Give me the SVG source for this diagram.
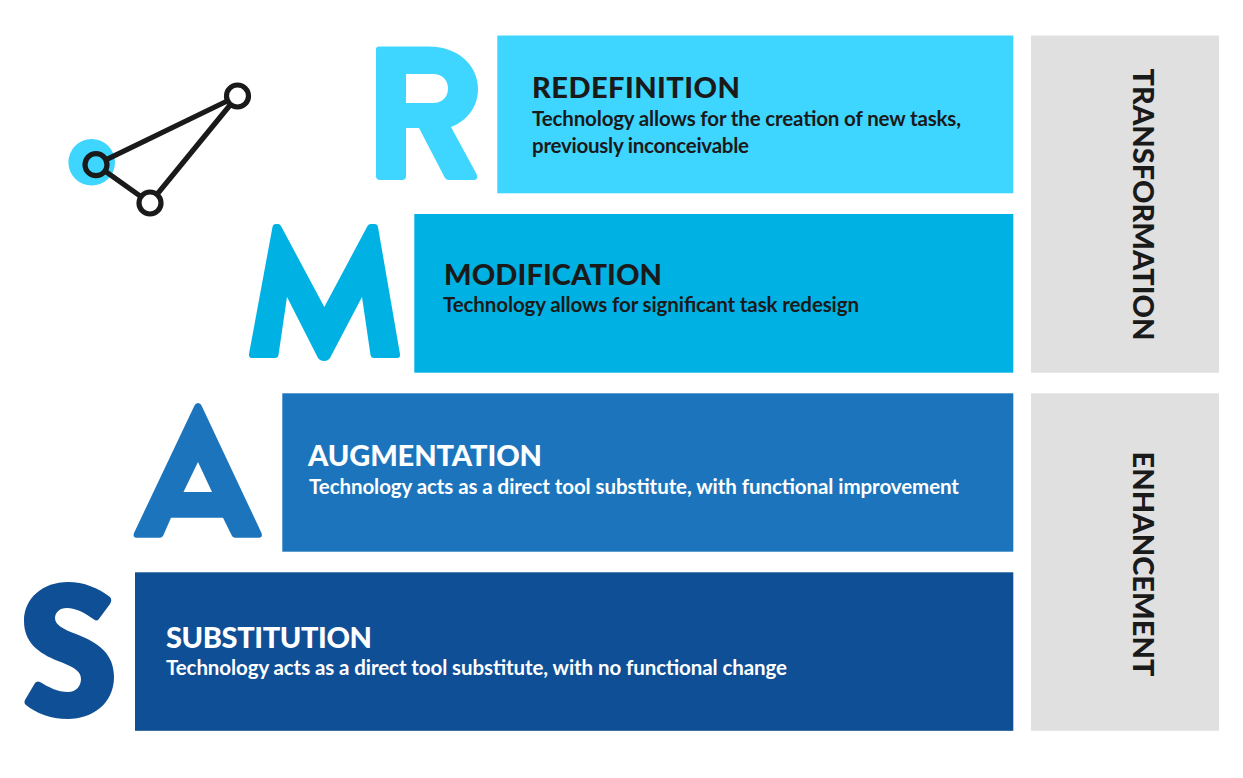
<svg xmlns="http://www.w3.org/2000/svg" width="1243" height="778" viewBox="0 0 1243 778">
<style>
.t{font-family:"Lato","Liberation Sans",sans-serif;font-weight:900;font-size:29px}
.b{font-family:"Lato","Liberation Sans",sans-serif;font-weight:700;font-size:20.500px}
.d{fill:#1a1a1a}.w{fill:#fff}
.v{font-family:"Lato","Liberation Sans",sans-serif;font-weight:900;font-size:29px;fill:#1a1a1a}
</style>
<rect width="1243" height="778" fill="#fff"/>
<g id="icon" fill="none" stroke="#1a1a1a" stroke-width="5.200">
<circle cx="91.700" cy="162.300" r="23.300" fill="#3ed5ff" stroke="none"/>
<path d="M96 164.700L237.500 96L150 203Z"/>
<circle cx="96" cy="164.700" r="11" fill="#3ed5ff"/><circle cx="237.500" cy="96" r="11" fill="#fff"/><circle cx="150" cy="203" r="11" fill="#fff"/>
</g>
<g id="redefinition">
<path fill="#3ed5ff" fill-rule="evenodd" d="M376 49Q376 46.500 379 46.500H428C458 46.500 478 65 478 89C478 107 467 121 451 127L476.500 174Q479 180 473 180H449Q446 180 445 178L419 128H406V176Q406 180 402 180H380Q376 180 376 176ZM406 74V103H433C443 103 448 96 448 88.500C448 81 443 74 433 74Z"/>
<rect x="497.300" y="35.500" width="516" height="157.800" fill="#3ed5ff"/>
<text x="532" y="98" class="t d" textLength="208" lengthAdjust="spacing">REDEFINITION</text>
<text x="532" y="126" class="b d" textLength="429" lengthAdjust="spacing">Technology allows for the creation of new tasks,</text>
<text x="532" y="153" class="b d" textLength="217" lengthAdjust="spacing">previously inconceivable</text>
</g>
<g id="modification">
<path fill="#00b2e3" d="M272.500 227Q273 224 276 224H278Q280 224 281 226L324.300 307L367.500 226Q368.500 224 371 224H374.500Q377.500 224 378 227L400 354Q400.500 358 397 358H374Q371 358 370.500 355L362 297L330 358Q328 361 324.300 361Q320 361 318 358L287 297L278.500 355Q278 358 275 358H252Q248.500 358 249 354Z"/>
<rect x="414.300" y="214" width="599" height="158.700" fill="#00b2e3"/>
<text x="444" y="285" class="t d" textLength="218" lengthAdjust="spacing">MODIFICATION</text>
<text x="443" y="312" class="b d" textLength="416" lengthAdjust="spacing">Technology allows for significant task redesign</text>
</g>
<g id="augmentation">
<path fill="#1c75bc" fill-rule="evenodd" d="M194.500 405.500Q195.500 403 198 403Q200.500 403 201.500 405.500L261.500 533Q263 537.700 259 537.700H235Q232.500 537.700 231.500 535L223 517.700H171L163.500 535Q162.500 537.700 160 537.700H136.500Q132.500 537.700 134 533ZM198 462L183.500 492H212Z"/>
<rect x="282.300" y="393.300" width="731" height="158.400" fill="#1c75bc"/>
<text x="308" y="466" class="t w" textLength="234" lengthAdjust="spacing">AUGMENTATION</text>
<text x="309" y="494" class="b w" textLength="650" lengthAdjust="spacing">Technology acts as a direct tool substitute, with functional improvement</text>
</g>
<g id="substitution">
<path fill="#0f4f96" d="M110 604L98.500 619.500Q96.500 621.500 94 619.500C85 613 76 608 67 608C59 608 55 613 55 618C55 625 63 629 76 634C99 643 114 654 114 677C114 703 93 719 68 719C50 719 36 713 26 705Q23.500 703 25 700L35 683Q37 680.500 40 682C48 687 58 692 68 692C76 692 81 686 81 679C81 670 71 666 58 661C38 653 24 642 24 621C24 598 43 582 68 582C84 582 98 588 110 597Q112.500 600 110 604Z"/>
<rect x="135" y="572.300" width="878.300" height="158.500" fill="#0f4f96"/>
<text x="166" y="648" class="t w" textLength="206" lengthAdjust="spacing">SUBSTITUTION</text>
<text x="166" y="675" class="b w" textLength="621" lengthAdjust="spacing">Technology acts as a direct tool substitute, with no functional change</text>
</g>
<g id="transformation">
<rect x="1031" y="35.500" width="188" height="337.200" fill="#e0e0e0"/>
<text class="v" transform="translate(1132.500 68.500) rotate(90)" textLength="272" lengthAdjust="spacing">TRANSFORMATION</text>
</g>
<g id="enhancement">
<rect x="1031" y="393.300" width="188" height="337.500" fill="#e0e0e0"/>
<text class="v" transform="translate(1132.500 451.500) rotate(90)" textLength="225" lengthAdjust="spacing">ENHANCEMENT</text>
</g>
<g id="connectors"/>
</svg>
